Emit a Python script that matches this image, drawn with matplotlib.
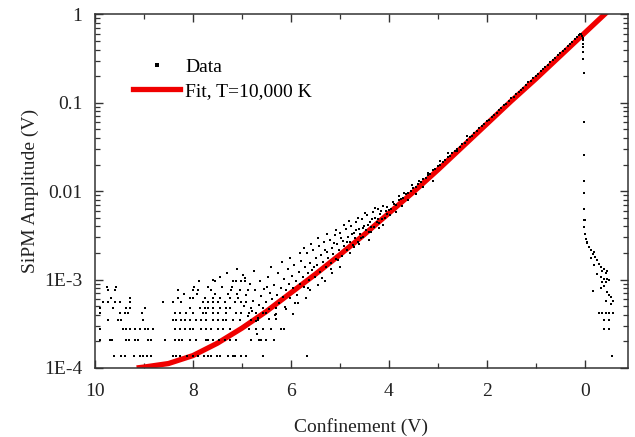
import matplotlib
matplotlib.use("Agg")
import matplotlib.pyplot as plt
from matplotlib.lines import Line2D
import numpy as np

# Fit curve, T = 10,000 K (confinement V, log10 amplitude V)
FIT_X = [9.15, 9.0, 8.5, 8.0, 7.5, 7.0, 6.5, 6.0, 5.5, 5.0, 4.5, 4.0,
         3.5, 3.0, 2.5, 2.0, 1.5, 1.0, 0.5, 0.0, -0.5, -0.9]
FIT_LOGY = [-4.0, -3.99, -3.95, -3.86, -3.72, -3.55, -3.36, -3.15, -2.94, -2.72, -2.49, -2.25,
            -2.01, -1.76, -1.50, -1.24, -0.98, -0.73, -0.47, -0.21, 0.05, 0.26]

# ADC step of the low amplitude readings (V)
ADC_STEP = 6.9e-5

# Quantised low amplitude data: x positions per ADC level
LOW_ROWS = {
    2: [9.61, 9.47, 9.39, 9.20, 9.08, 9.02, 8.94, 8.86, 8.41, 8.35, 8.27, 8.12, 8.00, 7.90,
        7.78, 7.69, 7.63, 7.51, 7.45, 7.29, 7.18, 7.14, 7.02, 6.92, 6.57, 5.67, -0.55],
    3: [9.90, 9.69, 9.65, 9.37, 9.31, 9.18, 9.12, 8.92, 8.86, 8.57, 8.37, 8.29, 8.22, 8.06,
        7.94, 7.73, 7.69, 7.59, 7.47, 7.35, 7.24, 7.12, 6.82, 6.65, 6.51, 6.35],
    4: [9.90, 9.43, 9.37, 9.29, 9.18, 9.08, 8.98, 8.92, 8.82, 8.37, 8.27, 8.16, 8.06, 8.00,
        7.84, 7.73, 7.63, 7.49, 7.39, 7.24, 6.86, 6.71, 6.57, 6.41, 6.14, -0.39, -0.50],
    5: [9.73, 9.53, 9.47, 9.02, 8.41, 8.35, 8.24, 8.16, 8.06, 7.94, 7.84, 7.73, 7.59, 7.49,
        7.39, 7.33, 7.18, 7.04, 6.82, 6.67, -0.39, -0.50],
    6: [9.90, 9.49, 9.39, 9.33, 9.04, 8.37, 8.27, 8.14, 8.00, 7.80, 7.73, 7.59, 7.49, 7.33,
        7.12, 7.02, 6.86, 6.71, 6.51, -0.29, -0.36, -0.43, -0.50, -0.57],
    7: [9.90, 9.63, 9.37, 9.29, 8.98, 8.06, 7.86, 7.76, 7.69, 7.59, 7.45, 7.33, 7.24, 6.82,
        6.57, 6.31],
    8: [9.84, 9.73, 9.59, 9.49, 9.29, 8.61, 8.41, 8.24, 7.80, 7.69, 7.59, 7.49, 7.35, 7.14,
        7.02, 6.92],
    9: [9.67, 9.29, 8.31, 8.06, 8.00, 7.76, 7.59, 7.45, 7.24, 7.08],
    10: [8.18, 7.92, 7.55, 7.28, 7.10],
    11: [9.73, 9.59, 8.31, 8.00, 7.90, 7.63, 7.22, 7.04, 6.88],
    12: [9.76, 9.57, 7.98, 7.70, 7.40, 7.20],
    14: [7.88, 7.55, 7.18, 7.12, 7.02, 6.94],
}

# Scattered data, 7.6 V .. 2.4 V (log10 amplitude)
MID_X = [7.60, 7.45, 7.30, 7.10, 6.98,
         6.95, 6.91, 6.87, 6.84, 6.80, 6.77, 6.73, 6.71, 6.66, 6.63, 6.61, 6.57, 6.54, 6.51,
         6.47, 6.44, 6.42, 6.38, 6.35, 6.33, 6.29, 6.26, 6.24, 6.21, 6.17, 6.15, 6.12, 6.09,
         6.06, 6.04, 6.01, 5.98, 5.95, 5.93, 5.90, 5.87, 5.84, 5.82, 5.79, 5.76, 5.73, 5.71,
         5.68, 5.65, 5.62, 5.60, 5.57, 5.54, 5.51, 5.49, 5.46, 5.43, 5.40, 5.38, 5.35, 5.32,
         5.29, 5.27, 5.24, 5.21, 5.18, 5.16, 5.13, 5.10, 5.07, 5.05, 5.02, 4.99, 4.96, 4.94,
         4.91, 4.88, 4.85, 4.83, 4.80, 4.77, 4.74, 4.72, 4.69, 4.66, 4.63, 4.61, 4.58, 4.55,
         4.52, 4.50, 4.47, 4.44, 4.41, 4.39, 4.36, 4.33, 4.30, 4.28, 4.25, 4.22, 4.19, 4.17,
         4.14, 4.11, 4.08, 4.06, 4.03,
         6.93, 6.76, 6.68, 6.49, 6.40, 6.31, 6.19, 6.02, 5.91, 5.81, 5.74, 5.66, 5.58, 5.52,
         5.44, 5.36, 5.31, 5.26, 5.19, 5.12, 5.08, 5.03, 4.97, 4.92, 4.86, 4.81, 4.76, 4.71,
         4.67, 4.62, 4.57, 4.53, 4.48, 4.43, 4.37, 4.34, 4.29, 4.23, 4.16, 4.12, 4.04, 3.98,
         3.92, 3.86, 3.80, 3.74, 3.68, 3.60, 3.52, 3.45, 3.38, 3.30, 3.20, 3.10, 2.95, 2.80,
         2.60, 2.40,
         6.85, 6.70, 6.60, 6.45, 6.30, 6.20, 6.10, 5.95, 5.85, 5.70, 5.60, 5.45, 5.30, 5.15,
         5.00, 4.80, 4.60, 4.40, 4.20]
MID_LOGY = [-3.00, -2.97, -2.92, -2.88, -2.95,
            -3.30, -3.18, -3.41, -3.05, -3.35, -3.24, -3.12, -3.47, -3.29, -3.02, -3.19, -3.38,
            -3.11, -3.25, -2.97, -3.33, -3.15, -3.22, -3.06, -3.40, -3.17, -2.93, -3.27, -3.09,
            -3.20, -2.99, -3.31, -3.12, -2.88, -3.05, -3.21, -2.96, -3.10, -2.83, -3.02, -3.17,
            -2.91, -3.05, -2.79, -2.97, -3.08, -2.86, -2.70, -2.93, -3.01, -2.81, -2.89, -2.66,
            -2.97, -2.76, -2.84, -2.62, -2.91, -2.72, -2.80, -2.58, -2.86, -2.69, -2.76, -2.55,
            -2.81, -2.64, -2.71, -2.50, -2.77, -2.60, -2.67, -2.47, -2.73, -2.56, -2.62, -2.43,
            -2.66, -2.52, -2.58, -2.39, -2.61, -2.47, -2.53, -2.35, -2.57, -2.43, -2.48, -2.31,
            -2.52, -2.39, -2.44, -2.27, -2.46, -2.35, -2.40, -2.24, -2.41, -2.30, -2.35, -2.20,
            -2.36, -2.26, -2.31, -2.17, -2.30, -2.22, -2.26,
            -2.98, -2.90, -3.44, -3.08, -2.86, -3.45, -2.80, -2.76, -3.26, -2.70, -2.64, -3.10,
            -2.60, -2.86, -2.53, -2.98, -2.66, -2.49, -2.88, -2.59, -2.44, -2.78, -2.53, -2.38,
            -2.58, -2.34, -2.49, -2.63, -2.44, -2.30, -2.53, -2.42, -2.25, -2.38, -2.46, -2.31,
            -2.19, -2.32, -2.22, -2.38, -2.18, -2.27, -2.12, -2.24, -2.06, -2.17, -2.02, -2.10,
            -1.93, -2.03, -1.88, -1.95, -1.79, -1.88, -1.66, -1.57, -1.55, -1.38,
            -3.56, -3.62, -3.68, -3.45, -3.39, -3.56, -3.33, -3.39, -3.26, -3.21, -3.12, -3.06,
            -3.02, -2.92, -2.86, -2.70, -2.60, -2.55, -2.42]

# Dense data along the fit, 4 V .. 0 V (log10 amplitude)
TOP_X = [4.00, 3.95, 3.90, 3.85, 3.80, 3.75, 3.70, 3.65, 3.60, 3.55, 3.50, 3.45, 3.40, 3.35,
         3.30, 3.25, 3.20, 3.15, 3.10, 3.05, 3.00, 2.95, 2.90, 2.85, 2.80, 2.75, 2.70, 2.65,
         2.60, 2.55, 2.50, 2.45, 2.40, 2.35, 2.30, 2.25, 2.20, 2.15, 2.10, 2.05, 2.00, 1.95,
         1.90, 1.85, 1.80, 1.75, 1.70, 1.65, 1.60, 1.55, 1.50, 1.45, 1.40, 1.35, 1.30, 1.25,
         1.20, 1.15, 1.10, 1.05, 1.00, 0.95, 0.90, 0.85, 0.80, 0.75, 0.70, 0.65, 0.60, 0.55,
         0.50, 0.45, 0.40, 0.35, 0.30, 0.25, 0.20, 0.15, 0.12, 0.09, 0.07, 0.05, 0.04]
TOP_LOGY = [-2.21, -2.20, -2.15, -2.16, -2.10, -2.09, -2.08, -2.03, -2.02, -2.00, -1.96, -1.95,
            -1.92, -1.90, -1.86, -1.85, -1.82, -1.80, -1.76, -1.75, -1.72, -1.70, -1.67, -1.65,
            -1.61, -1.60, -1.57, -1.55, -1.52, -1.50, -1.47, -1.45, -1.42, -1.39, -1.37, -1.34,
            -1.32, -1.29, -1.26, -1.24, -1.21, -1.19, -1.16, -1.14, -1.11, -1.08, -1.06, -1.03,
            -1.01, -0.98, -0.95, -0.93, -0.90, -0.88, -0.85, -0.83, -0.80, -0.77, -0.75, -0.72,
            -0.70, -0.67, -0.64, -0.62, -0.59, -0.57, -0.54, -0.52, -0.49, -0.46, -0.44, -0.41,
            -0.39, -0.36, -0.34, -0.31, -0.28, -0.25, -0.23, -0.22, -0.22, -0.24, -0.27]

# Drop-off at 0 V and the cluster past it (log10 amplitude)
EDGE_X = [0.04, 0.03, 0.03, 0.03, 0.03, 0.02, 0.02, 0.02, 0.02, 0.02, 0.01, 0.01, 0.01,
          0.00, 0.00, -0.02, -0.04, -0.05, -0.09, -0.12, -0.16, -0.19, -0.22, -0.12, -0.26,
          -0.29, -0.19, -0.33, -0.36, -0.39, -0.43, -0.46, -0.26, -0.33, -0.39, -0.46, -0.36,
          -0.43, -0.50, -0.39, -0.33, -0.16, -0.46, -0.50, -0.53, -0.43, -0.57, -0.53]
EDGE_LOGY = [-0.29, -0.33, -0.37, -0.43, -0.51, -0.66, -1.22, -1.59, -1.89, -2.02, -2.20,
             -2.33, -2.40, -2.33, -2.48, -2.54, -2.59, -2.58, -2.63, -2.67, -2.71, -2.69, -2.75,
             -2.76, -2.78, -2.82, -2.84, -2.86, -2.90, -2.88, -2.92, -2.90, -2.94, -2.97, -2.99,
             -2.99, -3.03, -3.03, -3.01, -3.07, -3.09, -3.13, -3.14, -3.18, -3.20, -3.24, -3.24,
             -3.28]

YTICKS = [1e-4, 1e-3, 1e-2, 1e-1, 1]
YTICK_LABELS = ["1E-4", "1E-3", "0.01", "0.1", "1"]
XTICKS = [10, 8, 6, 4, 2, 0]
XTICKS_MINOR = [9, 7, 5, 3, 1]

plt.rcParams["font.family"] = ["Liberation Serif", "DejaVu Serif"]
plt.rcParams["font.size"] = 14

fig = plt.figure(figsize=(6.35, 4.37), dpi=100)
ax = fig.add_axes([0.1496, 0.158, 0.839, 0.809])

data_x, data_y = [], []
for level, xs in LOW_ROWS.items():
    data_x += xs
    data_y += [level * ADC_STEP] * len(xs)
data_x += MID_X + TOP_X + EDGE_X
data_y += list(10 ** np.array(MID_LOGY + TOP_LOGY + EDGE_LOGY))

red = "#f00000"
ax.plot(FIT_X, 10 ** np.array(FIT_LOGY), color=red, lw=3.8, solid_capstyle="butt", zorder=2)
ax.plot(data_x, data_y, ls="none", marker="s", ms=1.8, mew=0, color="black", zorder=3)

ax.set_yscale("log")
ax.set_xlim(10, -0.88)
ax.set_ylim(1e-4, 1)
ax.set_yticks(YTICKS, YTICK_LABELS)
ax.set_xticks(XTICKS)
ax.set_xticks(XTICKS_MINOR, minor=True)

ink = "#333333"
for sp in ax.spines.values():
    sp.set_linewidth(1.1)
    sp.set_color(ink)
ax.tick_params(which="both", direction="in", top=True, right=True, color=ink,
               labelcolor="#222222")
ax.tick_params(which="major", length=6, width=1.0, labelsize=14)
ax.tick_params(which="minor", length=3.5, width=0.9)
ax.tick_params(axis="x", which="major", pad=11)
ax.tick_params(axis="y", which="major", pad=9)

ax.set_xlabel("Confinement (V)", color="#222222", labelpad=13)
ax.set_ylabel("SiPM Amplitude (V)", color="#222222", labelpad=4)

handles = [
    Line2D([], [], ls="none", marker="s", ms=2.2, mew=0, color="black"),
    Line2D([], [], color=red, lw=3.8),
]
ax.legend(handles, ["Data", "Fit, T=10,000 K"], loc="upper left",
          bbox_to_anchor=(0.071, 0.877), frameon=False, handlelength=2.45,
          handletextpad=0.25, labelspacing=0.35, borderpad=0, borderaxespad=0)

fig.savefig("out.png", dpi=100)
